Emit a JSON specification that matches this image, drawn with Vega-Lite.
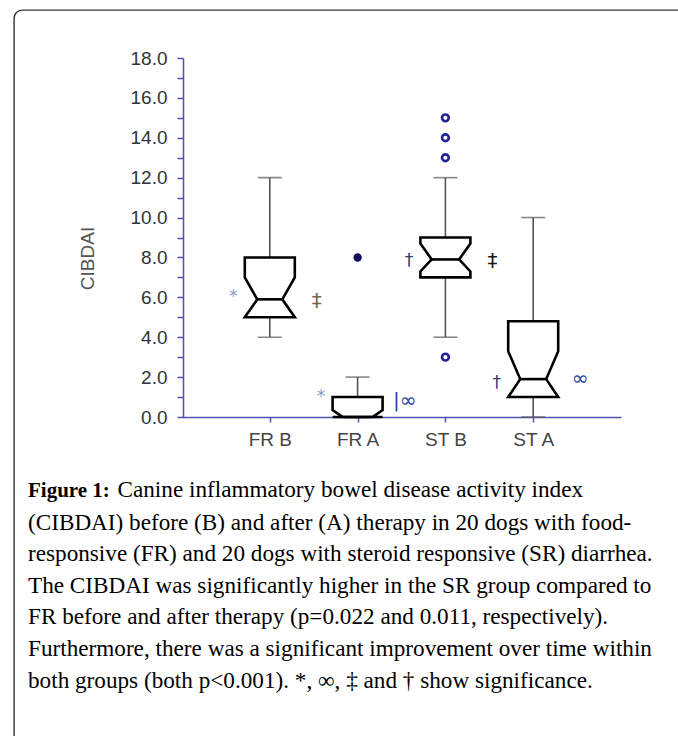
{
  "$schema": "https://vega.github.io/schema/vega-lite/v6.json",
  "autosize": {"type": "fit", "contains": "padding"},
  "width": 678,
  "height": 736,
  "padding": {"left": 14, "top": 10, "right": -40, "bottom": -14},
  "background": "white",
  "config": {"view": {"stroke": "#333333", "strokeWidth": 1.4, "cornerRadius": 8}},
  "title": {
    "text": "Figure 1:",
    "subtitle": [
      "(CIBDAI) before (B) and after (A) therapy in 20 dogs with food-",
      "responsive (FR) and 20 dogs with steroid responsive (SR) diarrhea.",
      "The CIBDAI was significantly higher in the SR group compared to",
      "FR before and after therapy (p=0.022 and 0.011, respectively).",
      "Furthermore, there was a significant improvement over time within",
      "both groups (both p<0.001). *, ∞, ‡ and † show significance."
    ],
    "orient": "bottom",
    "anchor": "start",
    "frame": "group",
    "offset": -270,
    "dx": 14,
    "font": "Liberation Serif",
    "fontSize": 21,
    "fontWeight": "bold",
    "color": "#000000",
    "subtitleFont": "Liberation Serif",
    "subtitleFontSize": 23.2,
    "subtitleFontWeight": "normal",
    "subtitleColor": "#000000",
    "subtitleLineHeight": 31.6,
    "subtitlePadding": 10.6
  },
  "datasets": {
    "box": [
      {"group": "FR B", "part": "box", "ord": 1, "w": 0, "value": 8},
      {"group": "FR B", "part": "box", "ord": 2, "w": -1, "value": 8},
      {"group": "FR B", "part": "box", "ord": 3, "w": -1, "value": 7},
      {"group": "FR B", "part": "box", "ord": 4, "w": -0.5, "value": 5.9},
      {"group": "FR B", "part": "box", "ord": 5, "w": -1, "value": 5},
      {"group": "FR B", "part": "box", "ord": 6, "w": 1, "value": 5},
      {"group": "FR B", "part": "box", "ord": 7, "w": 0.5, "value": 5.9},
      {"group": "FR B", "part": "box", "ord": 8, "w": 1, "value": 7},
      {"group": "FR B", "part": "box", "ord": 9, "w": 1, "value": 8},
      {"group": "FR B", "part": "box", "ord": 10, "w": 0, "value": 8},
      {"group": "FR B", "part": "median", "ord": 1, "w": -0.5, "value": 5.9},
      {"group": "FR B", "part": "median", "ord": 2, "w": 0.5, "value": 5.9},
      {"group": "FR A", "part": "box", "ord": 1, "w": 0, "value": 1},
      {"group": "FR A", "part": "box", "ord": 2, "w": -1, "value": 1},
      {"group": "FR A", "part": "box", "ord": 3, "w": -1, "value": 0.35},
      {"group": "FR A", "part": "box", "ord": 4, "w": -0.6, "value": 0},
      {"group": "FR A", "part": "box", "ord": 5, "w": -1, "value": 0},
      {"group": "FR A", "part": "box", "ord": 6, "w": 1, "value": 0},
      {"group": "FR A", "part": "box", "ord": 7, "w": 0.6, "value": 0},
      {"group": "FR A", "part": "box", "ord": 8, "w": 1, "value": 0.35},
      {"group": "FR A", "part": "box", "ord": 9, "w": 1, "value": 1},
      {"group": "FR A", "part": "box", "ord": 10, "w": 0, "value": 1},
      {"group": "FR A", "part": "median", "ord": 1, "w": -0.6, "value": 0},
      {"group": "FR A", "part": "median", "ord": 2, "w": 0.6, "value": 0},
      {"group": "ST B", "part": "box", "ord": 1, "w": 0, "value": 9},
      {"group": "ST B", "part": "box", "ord": 2, "w": -1, "value": 9},
      {"group": "ST B", "part": "box", "ord": 3, "w": -1, "value": 8.7},
      {"group": "ST B", "part": "box", "ord": 4, "w": -0.55, "value": 7.9},
      {"group": "ST B", "part": "box", "ord": 5, "w": -1, "value": 7.3},
      {"group": "ST B", "part": "box", "ord": 6, "w": -1, "value": 7},
      {"group": "ST B", "part": "box", "ord": 7, "w": 1, "value": 7},
      {"group": "ST B", "part": "box", "ord": 8, "w": 1, "value": 7.3},
      {"group": "ST B", "part": "box", "ord": 9, "w": 0.55, "value": 7.9},
      {"group": "ST B", "part": "box", "ord": 10, "w": 1, "value": 8.7},
      {"group": "ST B", "part": "box", "ord": 11, "w": 1, "value": 9},
      {"group": "ST B", "part": "box", "ord": 12, "w": 0, "value": 9},
      {"group": "ST B", "part": "median", "ord": 1, "w": -0.55, "value": 7.9},
      {"group": "ST B", "part": "median", "ord": 2, "w": 0.55, "value": 7.9},
      {"group": "ST A", "part": "box", "ord": 1, "w": 0, "value": 4.8},
      {"group": "ST A", "part": "box", "ord": 2, "w": -1, "value": 4.8},
      {"group": "ST A", "part": "box", "ord": 3, "w": -1, "value": 3.3},
      {"group": "ST A", "part": "box", "ord": 4, "w": -0.52, "value": 1.9},
      {"group": "ST A", "part": "box", "ord": 5, "w": -1, "value": 1},
      {"group": "ST A", "part": "box", "ord": 6, "w": 1, "value": 1},
      {"group": "ST A", "part": "box", "ord": 7, "w": 0.52, "value": 1.9},
      {"group": "ST A", "part": "box", "ord": 8, "w": 1, "value": 3.3},
      {"group": "ST A", "part": "box", "ord": 9, "w": 1, "value": 4.8},
      {"group": "ST A", "part": "box", "ord": 10, "w": 0, "value": 4.8},
      {"group": "ST A", "part": "median", "ord": 1, "w": -0.52, "value": 1.9},
      {"group": "ST A", "part": "median", "ord": 2, "w": 0.52, "value": 1.9}
    ],
    "whiskers": [
      {"group": "FR B", "value": 8, "value2": 12},
      {"group": "FR B", "value": 4, "value2": 5},
      {"group": "FR A", "value": 1, "value2": 2},
      {"group": "ST B", "value": 9, "value2": 12},
      {"group": "ST B", "value": 4, "value2": 7},
      {"group": "ST A", "value": 4.8, "value2": 10},
      {"group": "ST A", "value": 0, "value2": 1}
    ],
    "caps": [
      {"group": "FR B", "value": 12},
      {"group": "FR B", "value": 4},
      {"group": "FR A", "value": 2},
      {"group": "ST B", "value": 12},
      {"group": "ST B", "value": 4},
      {"group": "ST A", "value": 10},
      {"group": "ST A", "value": 0}
    ],
    "outliers": [
      {"group": "FR A", "value": 8, "kind": "far"},
      {"group": "ST B", "value": 15, "kind": "near"},
      {"group": "ST B", "value": 14, "kind": "near"},
      {"group": "ST B", "value": 13, "kind": "near"},
      {"group": "ST B", "value": 3, "kind": "near"}
    ],
    "symbols": [
      {"group": "FR B", "side": "left", "sym": "*", "kind": "star", "value": 6.0},
      {"group": "FR B", "side": "right", "sym": "‡", "kind": "ddagFR", "value": 5.8},
      {"group": "FR A", "side": "left", "sym": "*", "kind": "star", "value": 1.0},
      {"group": "FR A", "side": "right", "sym": "|∞", "kind": "inf", "value": 0.8},
      {"group": "ST B", "side": "left", "sym": "†", "kind": "dag", "value": 7.8},
      {"group": "ST B", "side": "right", "sym": "‡", "kind": "ddagST", "value": 7.8},
      {"group": "ST A", "side": "left", "sym": "†", "kind": "dag", "value": 1.7},
      {"group": "ST A", "side": "right", "sym": "∞", "kind": "inf", "value": 1.9}
    ]
  },
  "encoding": {
    "x": {
      "field": "group",
      "type": "nominal",
      "sort": ["FR B", "FR A", "ST B", "ST A"],
      "scale": {"type": "point", "domain": ["FR B", "FR A", "ST B", "ST A"], "range": [168, 607], "padding": 1},
      "axis": {
        "title": "Canine inflammatory bowel disease activity index",
        "titleFont": "Liberation Serif",
        "titleFontSize": 23.2,
        "titleFontWeight": "normal",
        "titleColor": "#000000",
        "titleAngle": 0,
        "titleAlign": "left",
        "titleBaseline": "top",
        "titleX": 103,
        "titleY": 61.5,
        "labelAngle": 0,
        "labelFont": "Liberation Sans",
        "labelFontSize": 19,
        "labelColor": "#444444",
        "labelPadding": 8,
        "domainColor": "#5252b0",
        "domainWidth": 1.5,
        "tickColor": "#5252b0",
        "tickWidth": 1.5,
        "tickSize": 5,
        "grid": false,
        "offset": -333
      }
    },
    "y": {
      "field": "value",
      "type": "quantitative",
      "scale": {"domain": [0, 18], "range": [407, 48], "nice": false, "zero": false},
      "axis": {
        "title": "CIBDAI",
        "values": [0, 1, 2, 3, 4, 5, 6, 7, 8, 9, 10, 11, 12, 13, 14, 15, 16, 17, 18],
        "labelExpr": "datum.value % 2 === 0 ? format(datum.value, '.1f') : ''",
        "labelOverlap": false,
        "labelFont": "Liberation Sans",
        "labelFontSize": 19,
        "labelColor": "#333333",
        "labelPadding": 10,
        "domainColor": "#5252b0",
        "domainWidth": 1.5,
        "tickColor": "#5252b0",
        "tickWidth": 1.5,
        "tickSize": 6,
        "grid": false,
        "offset": -169,
        "titleFont": "Liberation Sans",
        "titleFontSize": 19,
        "titleFontWeight": "normal",
        "titleColor": "#555555",
        "titleAngle": 270,
        "titleAlign": "center",
        "titleBaseline": "middle",
        "titleX": -96,
        "titleY": 248
      }
    }
  },
  "layer": [
    {
      "data": {"name": "whiskers"},
      "mark": {"type": "rule", "color": "#555555", "strokeWidth": 1.6},
      "encoding": {"y2": {"field": "value2"}}
    },
    {
      "data": {"name": "caps"},
      "mark": {"type": "tick", "size": 24, "thickness": 1.6, "color": "#555555", "orient": "horizontal"},
      "encoding": {}
    },
    {
      "data": {"name": "box"},
      "mark": {"type": "line", "color": "#000000", "strokeWidth": 2.6, "strokeJoin": "miter"},
      "encoding": {
        "xOffset": {"field": "w", "type": "quantitative", "scale": {"domain": [-1, 1], "range": [-25, 25]}},
        "order": {"field": "ord", "type": "quantitative"},
        "detail": [{"field": "group"}, {"field": "part"}]
      }
    },
    {
      "data": {"name": "outliers"},
      "transform": [{"filter": "datum.kind === 'near'"}],
      "mark": {"type": "point", "shape": "circle", "filled": false, "color": "#22229a", "strokeWidth": 2.6, "size": 46, "opacity": 1},
      "encoding": {}
    },
    {
      "data": {"name": "outliers"},
      "transform": [{"filter": "datum.kind === 'far'"}],
      "mark": {"type": "point", "shape": "circle", "filled": true, "color": "#0d0d5e", "size": 70, "opacity": 1},
      "encoding": {}
    },
    {
      "data": {"name": "symbols"},
      "transform": [{"filter": "datum.side === 'left'"}],
      "mark": {"type": "text", "dx": -36.5, "font": "DejaVu Sans", "fontSize": 17, "baseline": "middle", "align": "center"},
      "encoding": {
        "text": {"field": "sym"},
        "color": {"field": "kind", "type": "nominal", "legend": null,
          "scale": {"domain": ["star", "ddagFR", "inf", "dag", "ddagST"], "range": ["#86a0c4", "#7a6450", "#2a46a0", "#1f3d78", "#1a1a1a"]}}
      }
    },
    {
      "data": {"name": "symbols"},
      "transform": [{"filter": "datum.side === 'right'"}],
      "mark": {"type": "text", "dx": 47, "font": "DejaVu Sans", "fontSize": 20, "baseline": "middle", "align": "center"},
      "encoding": {
        "text": {"field": "sym"},
        "color": {"field": "kind", "type": "nominal", "legend": null}
      }
    }
  ]
}
